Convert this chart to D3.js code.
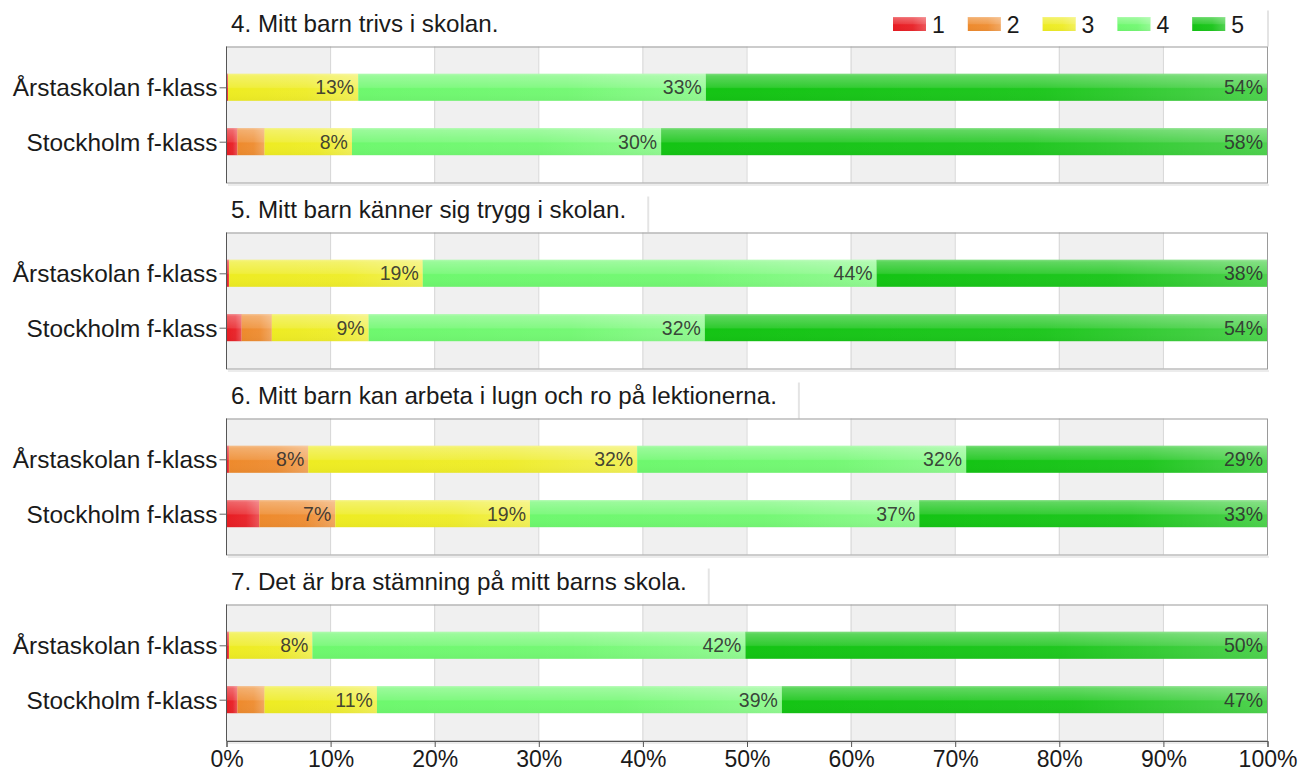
<!DOCTYPE html>
<html>
<head>
<meta charset="utf-8">
<script src="https://cdn.jsdelivr.net/npm/d3@7"></script>
<style>
  body { margin: 0; background: #fff; }
  text { font-family: "Liberation Sans", Arial, sans-serif; fill: #1a1a1a; }
</style>
</head>
<body>
<svg width="1298" height="773"></svg>
<script>
// survey data (percent per answer 1..5)
const questions = [
    '4. Mitt barn trivs i skolan.',
    '5. Mitt barn känner sig trygg i skolan.',
    '6. Mitt barn kan arbeta i lugn och ro på lektionerna.',
    '7. Det är bra stämning på mitt barns skola.'
];
const groups = ['Årstaskolan f-klass', 'Stockholm f-klass'];
const levels = ['1', '2', '3', '4', '5'];
const arstaValues = [
    [0.2, 0, 12.5, 33.4, 53.9],
    [0.3, 0, 18.6, 43.6, 37.5],
    [0.3, 7.6, 31.6, 31.6, 28.9],
    [0.3, 0, 8.0, 41.6, 50.1]
];
const stockholmValues = [
    [1.1, 2.6, 8.4, 29.7, 58.2],
    [1.5, 2.9, 9.3, 32.3, 54.0],
    [3.2, 7.3, 18.7, 37.4, 33.4],
    [1.1, 2.6, 10.8, 38.9, 46.6]
];
const xTicks = [0, 10, 20, 30, 40, 50, 60, 70, 80, 90, 100];
const colors = ['#e81c22', '#ee8a2c', '#eeec22', '#6ef86e', '#14c414'];

const svg = d3.select('svg');
const left = 226, right = 1267;
const panelH = 136, panelGap = 186, firstTop = 46.5;

const x = d3.scaleLinear().domain([0, 100]).range([left, right]);
const y = d3.scalePoint().domain(groups).range([0, panelH]).padding(0.75);
const barH = 27;

// gloss gradients
const defs = svg.append('defs');
const vg = defs.append('linearGradient').attr('id', 'glossV')
    .attr('x1', 0).attr('y1', 0).attr('x2', 0).attr('y2', 1);
vg.append('stop').attr('offset', 0).attr('stop-color', '#fff').attr('stop-opacity', 0.45);
vg.append('stop').attr('offset', 0.08).attr('stop-color', '#fff').attr('stop-opacity', 0.3);
vg.append('stop').attr('offset', 0.5).attr('stop-color', '#fff').attr('stop-opacity', 0.12);
vg.append('stop').attr('offset', 0.55).attr('stop-color', '#fff').attr('stop-opacity', 0);
vg.append('stop').attr('offset', 1).attr('stop-color', '#000').attr('stop-opacity', 0.03);
const hg = defs.append('linearGradient').attr('id', 'glossH')
    .attr('x1', 0).attr('y1', 0).attr('x2', 1).attr('y2', 0);
hg.append('stop').attr('offset', 0).attr('stop-color', '#fff').attr('stop-opacity', 0);
hg.append('stop').attr('offset', 0.6).attr('stop-color', '#fff').attr('stop-opacity', 0.05);
hg.append('stop').attr('offset', 1).attr('stop-color', '#fff').attr('stop-opacity', 0.25);

questions.forEach((q, qi) => {
    const top = firstTop + qi * panelGap;
    const g = svg.append('g').attr('transform', 'translate(0,' + top + ')');

    // title with its little box shadow
    const title = g.append('text')
        .attr('x', 231).attr('y', -15)
        .style('font-size', '24.2px')
        .text(q);
    const boxRight = qi === 0 ? 1268 : 231 + title.node().getComputedTextLength() + 22;
    g.append('line')
        .attr('x1', boxRight).attr('x2', boxRight)
        .attr('y1', -36).attr('y2', 0)
        .attr('stroke', '#e4e4e4').attr('stroke-width', 2);

    // alternating background bands
    g.selectAll('rect.band')
        .data(xTicks.slice(0, -1).filter((d, i) => i % 2 === 0))
        .enter().append('rect')
        .attr('class', 'band')
        .attr('x', d => x(d)).attr('width', x(10) - x(0))
        .attr('y', 0).attr('height', panelH)
        .attr('fill', '#f0f0f0');

    // vertical grid
    g.selectAll('line.grid')
        .data(xTicks.slice(1, -1))
        .enter().append('line')
        .attr('x1', d => x(d) + 0.5).attr('x2', d => x(d) + 0.5)
        .attr('y1', 0).attr('y2', panelH)
        .attr('stroke', '#d6d6d6');

    // stacked bars
    const rows = [arstaValues[qi], stockholmValues[qi]];
    rows.forEach((vals, gi) => {
        let acc = 0;
        const segs = vals.map((v, li) => {
            const s = { level: li, start: acc, value: v };
            acc += v;
            return s;
        }).filter(s => s.value > 0);

        const rowG = g.append('g')
            .attr('transform', 'translate(0,' + (y(groups[gi]) - barH / 2) + ')');

        const seg = rowG.selectAll('g.seg')
            .data(segs)
            .enter().append('g');

        seg.append('rect')
            .attr('x', d => x(d.start)).attr('width', d => x(d.start + d.value) - x(d.start))
            .attr('height', barH)
            .attr('fill', d => colors[d.level]);
        seg.append('rect')
            .attr('x', d => x(d.start)).attr('width', d => x(d.start + d.value) - x(d.start))
            .attr('height', barH)
            .attr('fill', 'url(#glossH)');
        seg.append('rect')
            .attr('x', d => x(d.start)).attr('width', d => x(d.start + d.value) - x(d.start))
            .attr('height', barH)
            .attr('fill', 'url(#glossV)');

        seg.filter(d => d.value >= 5)
            .append('text')
            .attr('x', d => x(d.start + d.value) - 4)
            .attr('y', barH / 2 + 7)
            .attr('text-anchor', 'end')
            .style('font-size', '19.5px')
            .style('fill', '#2e2e2e')
            .style('fill-opacity', 0.9)
            .text(d => Math.round(d.value) + '%');
    });

    // frame
    g.append('rect')
        .attr('x', left + 0.5).attr('y', 0.5)
        .attr('width', right - left).attr('height', panelH)
        .attr('fill', 'none').attr('stroke', '#9a9a9a');
    g.append('line')
        .attr('x1', left + 2).attr('x2', right + 2)
        .attr('y1', panelH + 2.5).attr('y2', panelH + 2.5)
        .attr('stroke', '#ececec').attr('stroke-width', 2);

    // y axis
    const yAxis = g.append('g')
        .attr('transform', 'translate(' + (left + 0.5) + ',0)')
        .call(d3.axisLeft(y).tickSize(7).tickPadding(2));
    yAxis.select('.domain').attr('stroke', '#555').attr('d', 'M0,0V' + (panelH + 0.5));
    yAxis.selectAll('.tick line').attr('stroke', '#666');
    yAxis.selectAll('.tick text')
        .style('font-size', '24.4px')
        .attr('dy', '0.35em')
        .attr('fill', '#1a1a1a');

    // x axis on the last panel
    if (qi === questions.length - 1) {
        const xAxis = g.append('g')
            .attr('transform', 'translate(0.5,' + (panelH + 0.5) + ')')
            .call(d3.axisBottom(x).tickValues(xTicks).tickSize(6).tickPadding(4)
                .tickFormat(d => d + '%'));
        xAxis.select('.domain').attr('stroke', '#555');
        xAxis.selectAll('.tick line').attr('stroke', '#555');
        xAxis.selectAll('.tick text')
            .style('font-size', '23px')
            .attr('fill', '#1a1a1a');
    }
});

// legend
const legend = svg.append('g')
    .selectAll('g')
    .data(levels)
    .enter().append('g')
    .attr('transform', (d, i) => 'translate(' + (893 + i * 74.8) + ',17)');
legend.append('rect')
    .attr('width', 33).attr('height', 14)
    .attr('fill', (d, i) => colors[i]);
legend.append('rect')
    .attr('width', 33).attr('height', 14)
    .attr('fill', 'url(#glossH)');
legend.append('rect')
    .attr('width', 33).attr('height', 14)
    .attr('fill', 'url(#glossV)');
legend.append('text')
    .attr('x', 39).attr('y', 15.5)
    .style('font-size', '23px')
    .text(d => d);
</script>
</body>
</html>
